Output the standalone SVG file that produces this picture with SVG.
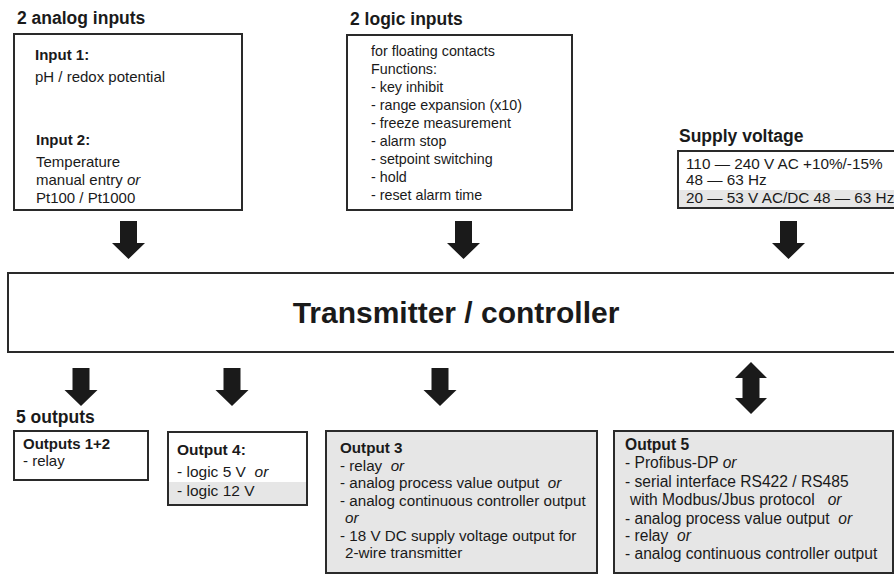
<svg xmlns="http://www.w3.org/2000/svg" width="894" height="576" viewBox="0 0 894 576">
<style>
text{font-family:"Liberation Sans",Arial,Helvetica,sans-serif;fill:#1a1a1a}
.t{font-size:17.5px;font-weight:bold}
.b{font-weight:bold}
.i{font-style:italic}
.box{fill:#fff;stroke:#2a2a2a;stroke-width:2}
.gbox{fill:#e6e6e6;stroke:#2a2a2a;stroke-width:2}
.arr{fill:#1a1a1a}
#analog-inputs text{font-size:15px}
#logic-inputs text{font-size:14.3px}
#supply-voltage text{font-size:15.3px}
#outputs-1-2 text{font-size:15px}
#output-4 text{font-size:15.5px}
#output-3 text{font-size:15.2px}
#output-5 text{font-size:15.6px}
#analog-inputs .t,#logic-inputs .t,#supply-voltage .t,#outputs-1-2 .t{font-size:17.5px}
</style>
<defs>
<path id="down" d="M-8.5,0 H8.5 V22 H16.5 L0,38 L-16.5,22 H-8.5 Z"/>
</defs>
<rect width="894" height="576" fill="#fff"/>

<g id="analog-inputs">
<text class="t" x="17" y="24">2 analog inputs</text>
<rect class="box" x="14" y="34" width="228" height="176"/>
<text class="b" x="35" y="60">Input 1:</text>
<text x="35" y="82">pH / redox potential</text>
<text class="b" x="36" y="145">Input 2:</text>
<text x="36" y="167">Temperature</text>
<text x="36" y="185">manual entry <tspan class="i">or</tspan></text>
<text x="36" y="203">Pt100 / Pt1000</text>
</g>

<g id="logic-inputs">
<text class="t" x="350" y="25">2 logic inputs</text>
<rect class="box" x="347" y="35" width="225" height="175"/>
<text x="371" y="56">for floating contacts</text>
<text x="371" y="74">Functions:</text>
<text x="371" y="92">- key inhibit</text>
<text x="371" y="110">- range expansion (x10)</text>
<text x="371" y="128">- freeze measurement</text>
<text x="371" y="146">- alarm stop</text>
<text x="371" y="164">- setpoint switching</text>
<text x="371" y="182">- hold</text>
<text x="371" y="200">- reset alarm time</text>
</g>

<g id="supply-voltage">
<text class="t" x="679" y="142">Supply voltage</text>
<rect x="678" y="190" width="216" height="18" fill="#e6e6e6"/>
<path d="M894,151 H678 V208 H894" fill="none" stroke="#2a2a2a" stroke-width="2"/>
<text x="686" y="169">110 — 240 V AC +10%/-15%</text>
<text x="686" y="185">48 — 63 Hz</text>
<text x="686" y="203">20 — 53 V AC/DC 48 — 63 Hz</text>
</g>

<g id="transmitter">
<path d="M896,273 H8 V352 H896" fill="#fff" stroke="#2a2a2a" stroke-width="2"/>
<text x="456" y="323" text-anchor="middle" style="font-size:30px;font-weight:bold">Transmitter / controller</text>
</g>

<g id="connectors">
<use href="#down" class="arr" x="128.5" y="221"/>
<use href="#down" class="arr" x="463.5" y="221"/>
<use href="#down" class="arr" x="788.5" y="221"/>
<use href="#down" class="arr" x="81" y="368"/>
<use href="#down" class="arr" x="232" y="368"/>
<use href="#down" class="arr" x="440" y="368"/>
<path class="arr" d="M751,362 L767,378 H759.5 V398 H767 L751,414 L735,398 H742.5 V378 H735 Z"/>
</g>

<g id="outputs-1-2">
<text class="t" x="16" y="423">5 outputs</text>
<rect class="box" x="14" y="431" width="134" height="49"/>
<text class="b" x="23" y="449">Outputs 1+2</text>
<text x="23" y="466">- relay</text>
</g>

<g id="output-4">
<rect class="box" x="168" y="432" width="139" height="73"/>
<rect x="169" y="482" width="137" height="22" fill="#e6e6e6"/>
<text class="b" x="177" y="455">Output 4:</text>
<text x="177" y="477">- logic 5 V&#160; <tspan class="i">or</tspan></text>
<text x="177" y="496">- logic 12 V</text>
</g>

<g id="output-3">
<rect class="gbox" x="326" y="431" width="271" height="142"/>
<text class="b" x="340" y="453">Output 3</text>
<text x="340" y="471">- relay&#160; <tspan class="i">or</tspan></text>
<text x="340" y="488">- analog process value output&#160; <tspan class="i">or</tspan></text>
<text x="340" y="506">- analog continuous controller output</text>
<text class="i" x="345" y="523">or</text>
<text x="340" y="541">- 18 V DC supply voltage output for</text>
<text x="345" y="558">2-wire transmitter</text>
</g>

<g id="output-5">
<rect class="gbox" x="614" y="431" width="279" height="142"/>
<text class="b" x="625" y="450">Output 5</text>
<text x="625" y="468">- Profibus-DP <tspan class="i">or</tspan></text>
<text x="625" y="487">- serial interface RS422 / RS485</text>
<text x="630" y="505">with Modbus/Jbus protocol&#160;&#160; <tspan class="i">or</tspan></text>
<text x="625" y="524">- analog process value output&#160; <tspan class="i">or</tspan></text>
<text x="625" y="541">- relay&#160; <tspan class="i">or</tspan></text>
<text x="625" y="559">- analog continuous controller output</text>
</g>
</svg>
